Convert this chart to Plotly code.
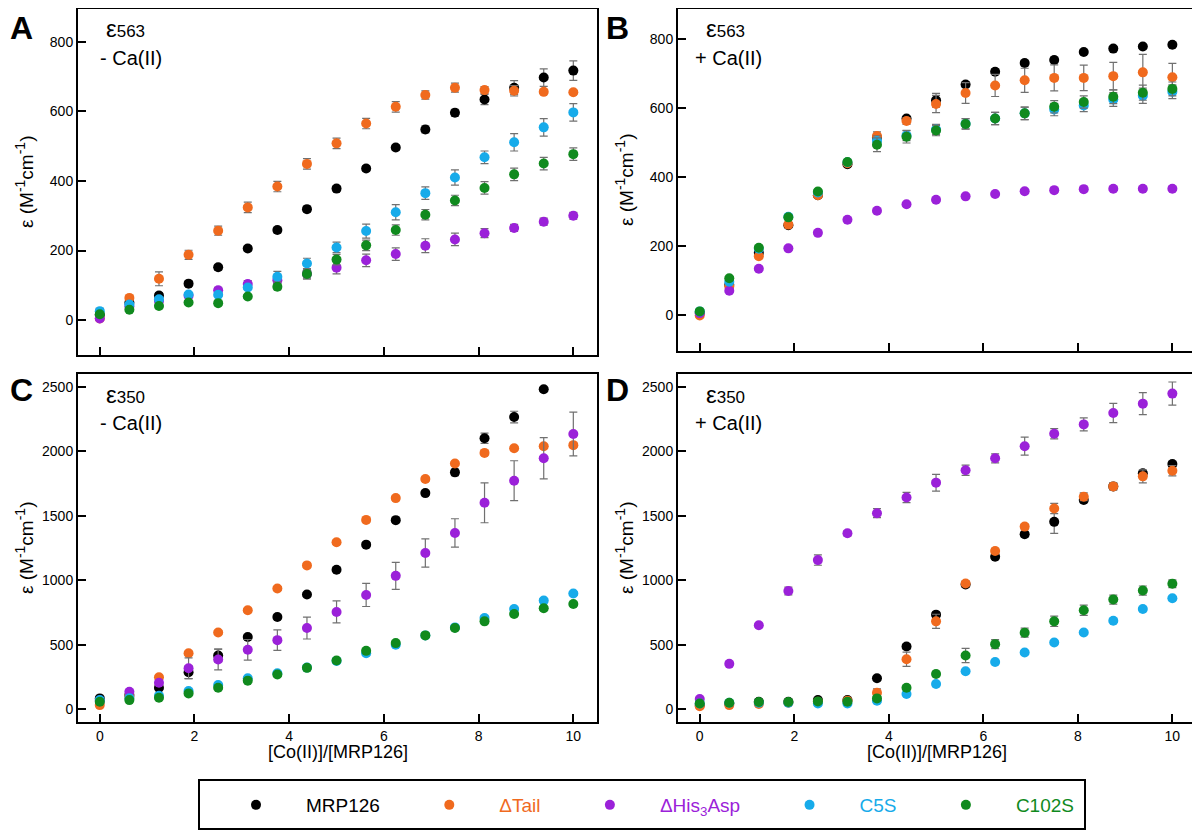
import plotly.graph_objects as go

# page body adds an 8px margin; the figure is sized and positioned to compensate
OFF = 8
W, H = 1200 - OFF, 831 - OFF

x_ratio = [0, 0.625, 1.25, 1.875, 2.5, 3.125, 3.75, 4.375, 5, 5.625, 6.25, 6.875, 7.5, 8.125, 8.75, 9.375, 10]

series_names = ["MRP126", "ΔTail", "ΔHis<sub>3</sub>Asp", "C5S", "C102S"]
series_colors = ["#000000", "#F06A1E", "#9B21D9", "#17ABEA", "#108A1E"]

# Panel A: eps563, - Ca(II)
A_MRP126 = [15, 50, 71, 105, 152, 206, 259, 319, 378, 436, 496, 548, 596, 634, 668, 697, 717]
A_dTail = [5, 64, 119, 188, 257, 324, 384, 449, 508, 565, 613, 647, 668, 661, 659, 656, 655]
A_dHis = [5, 40, 55, 70, 86, 104, 115, 133, 151, 172, 190, 214, 232, 250, 265, 283, 300]
A_C5S = [26, 45, 60, 74, 73, 94, 125, 163, 209, 256, 310, 365, 410, 468, 511, 554, 597]
A_C102S = [17, 30, 41, 51, 49, 68, 96, 133, 174, 215, 259, 303, 344, 380, 419, 450, 477]
A_MRP126_err = [5, 5, 8, 8, 8, 8, 8, 8, 8, 8, 8, 10, 10, 15, 20, 25, 28]
A_dTail_err = [5, 5, 20, 13, 13, 15, 15, 15, 15, 15, 15, 12, 13, 10, 15, 5, 5]
A_dHis_err = [5, 5, 5, 5, 8, 10, 10, 12, 18, 18, 18, 20, 18, 13, 10, 10, 10]
A_C5S_err = [8, 5, 5, 5, 5, 5, 15, 15, 15, 20, 22, 18, 22, 18, 25, 25, 25]
A_C102S_err = [5, 5, 5, 5, 5, 5, 8, 15, 15, 15, 15, 15, 15, 18, 18, 18, 18]

# Panel B: eps563, + Ca(II)
B_MRP126 = [5, 87, 180, 260, 347, 437, 515, 570, 623, 669, 706, 731, 740, 763, 773, 779, 784]
B_dTail = [-2, 82, 170, 262, 347, 440, 519, 563, 612, 644, 666, 681, 688, 688, 693, 704, 690]
B_dHis = [5, 70, 134, 193, 238, 276, 302, 321, 334, 344, 351, 359, 362, 365, 366, 366, 366]
B_C5S = [10, 96, 192, 285, 355, 443, 505, 521, 538, 555, 570, 585, 596, 608, 625, 636, 648]
B_C102S = [10, 106, 195, 283, 358, 444, 494, 517, 535, 554, 570, 585, 604, 618, 633, 645, 656]
B_MRP126_err = [5, 5, 5, 5, 5, 5, 5, 5, 20, 8, 8, 8, 8, 5, 5, 5, 5]
B_dTail_err = [5, 5, 5, 5, 5, 5, 12, 10, 25, 30, 32, 35, 38, 37, 40, 52, 40]
B_dHis_err = [5] * 17
B_C5S_err = [5, 5, 5, 5, 5, 5, 15, 15, 15, 15, 18, 18, 18, 18, 20, 22, 20]
B_C102S_err = [5, 5, 5, 5, 5, 5, 20, 18, 15, 15, 18, 18, 18, 18, 20, 22, 20]

# Panel C: eps350, - Ca(II)
C_MRP126 = [83, 110, 166, 286, 416, 559, 715, 889, 1081, 1276, 1466, 1676, 1837, 2102, 2266, 2482, None]
C_dTail = [31, 96, 247, 434, 595, 767, 936, 1115, 1294, 1468, 1637, 1785, 1905, 1988, 2024, 2040, 2048]
C_dHis = [65, 135, 205, 317, 385, 460, 535, 629, 754, 886, 1034, 1211, 1367, 1601, 1772, 1946, 2134]
C_C5S = [70, 85, 104, 140, 187, 239, 278, 322, 374, 434, 499, 572, 634, 707, 777, 842, 897]
C_C102S = [57, 70, 88, 122, 166, 221, 268, 320, 377, 452, 512, 572, 629, 681, 738, 782, 816]
C_MRP126_err = [10, 10, 15, 50, 50, 20, 15, 15, 15, 15, 15, 15, 25, 40, 45, 15, 0]
C_dTail_err = [10, 10, 15, 15, 15, 15, 15, 15, 15, 15, 15, 15, 15, 15, 15, 15, 15]
C_dHis_err = [10, 10, 15, 80, 80, 80, 80, 85, 85, 90, 105, 110, 110, 155, 155, 160, 170]
C_C5S_err = [10, 10, 10, 10, 12, 12, 12, 12, 15, 15, 15, 15, 15, 15, 15, 15, 15]
C_C102S_err = [10, 10, 10, 10, 12, 12, 12, 12, 15, 15, 15, 15, 15, 15, 15, 15, 15]

# Panel D: eps350, + Ca(II)
D_MRP126 = [31, 44, 57, 57, 70, 70, 239, 486, 733, 967, 1182, 1357, 1453, 1622, 1728, 1830, 1902]
D_dTail = [23, 31, 39, 49, 57, 65, 127, 387, 681, 975, 1227, 1416, 1557, 1648, 1728, 1806, 1850]
D_dHis = [78, 351, 650, 917, 1156, 1364, 1520, 1642, 1757, 1853, 1946, 2040, 2136, 2209, 2297, 2370, 2448]
D_C5S = [44, 49, 49, 49, 44, 44, 65, 117, 195, 294, 366, 439, 517, 595, 686, 777, 860]
D_C102S = [44, 49, 55, 55, 60, 57, 83, 166, 273, 416, 504, 593, 681, 767, 850, 920, 972]
D_MRP126_err = [10, 10, 10, 10, 10, 10, 15, 20, 20, 20, 20, 20, 90, 20, 20, 20, 20]
D_dTail_err = [10, 10, 10, 10, 10, 10, 30, 55, 55, 20, 20, 20, 40, 30, 30, 50, 40]
D_dHis_err = [10, 10, 15, 30, 40, 20, 35, 40, 65, 40, 35, 70, 40, 50, 75, 85, 90]
D_C5S_err = [10] * 17
D_C102S_err = [10, 10, 10, 10, 10, 10, 10, 15, 20, 55, 35, 35, 40, 40, 35, 35, 30]

panels = [
    ("A", [A_MRP126, A_dTail, A_dHis, A_C5S, A_C102S],
     [A_MRP126_err, A_dTail_err, A_dHis_err, A_C5S_err, A_C102S_err]),
    ("B", [B_MRP126, B_dTail, B_dHis, B_C5S, B_C102S],
     [B_MRP126_err, B_dTail_err, B_dHis_err, B_C5S_err, B_C102S_err]),
    ("C", [C_MRP126, C_dTail, C_dHis, C_C5S, C_C102S],
     [C_MRP126_err, C_dTail_err, C_dHis_err, C_C5S_err, C_C102S_err]),
    ("D", [D_MRP126, D_dTail, D_dHis, D_C5S, D_C102S],
     [D_MRP126_err, D_dTail_err, D_dHis_err, D_C5S_err, D_C102S_err]),
]

x_ticks = [0, 2, 4, 6, 8, 10]
y_ticks_563 = [0, 200, 400, 600, 800]
y_ticks_350 = [0, 500, 1000, 1500, 2000, 2500]

FONT = "Arial, 'Liberation Sans', sans-serif"

# screen-pixel boxes of the four plot areas: (left, right, top, bottom)
boxes = {"A": (78, 597, 9, 355), "B": (678, 1196, 9, 351),
         "C": (78, 597, 374, 722), "D": (678, 1196, 374, 722)}
yranges = {"A": [-100, 894], "B": [-105, 888], "C": [-100, 2600], "D": [-100, 2600]}


def px_x(p):
    return min(1.0, max(0.0, (p - OFF) / W))


def px_y(p):
    return min(1.0, max(0.0, 1 - (p - OFF) / H))


fig = go.Figure()
layout = dict(width=W, height=H, margin=dict(l=0, r=0, t=0, b=0),
              paper_bgcolor="white", plot_bgcolor="white",
              font=dict(family=FONT, color="black", size=14),
              showlegend=True)

for i, (letter, ys, errs) in enumerate(panels):
    n = i + 1
    xa = "x" if n == 1 else f"x{n}"
    ya = "y" if n == 1 else f"y{n}"
    for s in range(5):
        fig.add_trace(go.Scatter(
            x=x_ratio, y=ys[s], mode="markers", xaxis=xa, yaxis=ya,
            marker=dict(color=series_colors[s], size=10, line=dict(width=0)),
            error_y=dict(type="data", array=errs[s], visible=True,
                         color="#707070", thickness=1.2, width=4),
            showlegend=False, hoverinfo="x+y"))
    l, r, t, b = boxes[letter]
    axcommon = dict(showline=True, linecolor="black", linewidth=2, mirror=True,
                    ticks="inside", ticklen=8, tickwidth=2, tickcolor="black",
                    showgrid=False, zeroline=False,
                    tickfont=dict(family=FONT, size=14, color="black"))
    layout["xaxis" if n == 1 else f"xaxis{n}"] = dict(
        domain=[px_x(l), px_x(r)], range=[-0.46, 10.5], anchor=ya,
        tickmode="array", tickvals=x_ticks,
        showticklabels=letter in ("C", "D"), **axcommon)
    layout["yaxis" if n == 1 else f"yaxis{n}"] = dict(
        domain=[px_y(b), px_y(t)], range=yranges[letter], anchor=xa,
        tickmode="array",
        tickvals=y_ticks_563 if letter in ("A", "B") else y_ticks_350,
        **axcommon)

# legend-only traces
for s in range(5):
    fig.add_trace(go.Scatter(
        x=[None], y=[None], mode="markers",
        marker=dict(color=series_colors[s], size=10),
        name=f"<span style='color:{series_colors[s]}'>{series_names[s]}</span>&nbsp;&nbsp;\u2009",
        showlegend=True))

layout["legend"] = dict(
    orientation="h", x=px_x(206), y=px_y(805), xanchor="left", yanchor="middle",
    borderwidth=0, bgcolor="rgba(0,0,0,0)",
    font=dict(family=FONT, size=19, color="black"),
    itemwidth=90, itemclick=False, itemdoubleclick=False, tracegroupgap=0)

layout["shapes"] = [dict(type="rect", xref="paper", yref="paper",
                         x0=px_x(199), x1=px_x(1085), y0=px_y(829), y1=px_y(780),
                         line=dict(color="black", width=2), fillcolor="rgba(0,0,0,0)",
                         layer="below")]

ann = []
labels = {"A": ("563", "- Ca(II)"), "B": ("563", "+ Ca(II)"),
          "C": ("350", "- Ca(II)"), "D": ("350", "+ Ca(II)")}
letter_pos = {"A": (8, 8), "B": (604, 8), "C": (8, 370), "D": (604, 370)}
ytitle = ("ε (M<sup><span style='font-size:14px'>-1</span></sup>"
          "cm<sup><span style='font-size:14px'>-1</span></sup>)")
for letter in "ABCD":
    l, r, t, b = boxes[letter]
    lx, ly = letter_pos[letter]
    ann.append(dict(text=f"<b>{letter}</b>", x=px_x(lx), y=px_y(ly),
                    xref="paper", yref="paper",
                    showarrow=False, font=dict(family=FONT, size=32, color="black"),
                    xanchor="left", yanchor="top"))
    wl, ca = labels[letter]
    ann.append(dict(text=f"<span style='font-size:24px'>ε</span>{wl}", x=px_x(l + 26), y=px_y(t + 20),
                    xref="paper", yref="paper", showarrow=False,
                    font=dict(family=FONT, size=17, color="black"),
                    xanchor="left", yanchor="middle"))
    ca_off = 20 if ca.startswith("-") else 15
    ann.append(dict(text=ca, x=px_x(l + ca_off), y=px_y(t + 49), xref="paper", yref="paper",
                    showarrow=False, font=dict(family=FONT, size=20, color="black"),
                    xanchor="left", yanchor="middle"))
    ann.append(dict(text=ytitle, x=px_x(l - 54), y=px_y((t + b) / 2),
                    xref="paper", yref="paper", showarrow=False, textangle=-90,
                    font=dict(family=FONT, size=19, color="black"),
                    xanchor="center", yanchor="middle"))
    if letter in ("C", "D"):
        ann.append(dict(text="[Co(II)]/[MRP126]", x=px_x((l + r) / 2), y=px_y(752),
                        xref="paper", yref="paper", showarrow=False,
                        font=dict(family=FONT, size=18, color="black"),
                        xanchor="center", yanchor="middle"))
layout["annotations"] = ann

fig.update_layout(**layout)
fig.write_html("out.html")
